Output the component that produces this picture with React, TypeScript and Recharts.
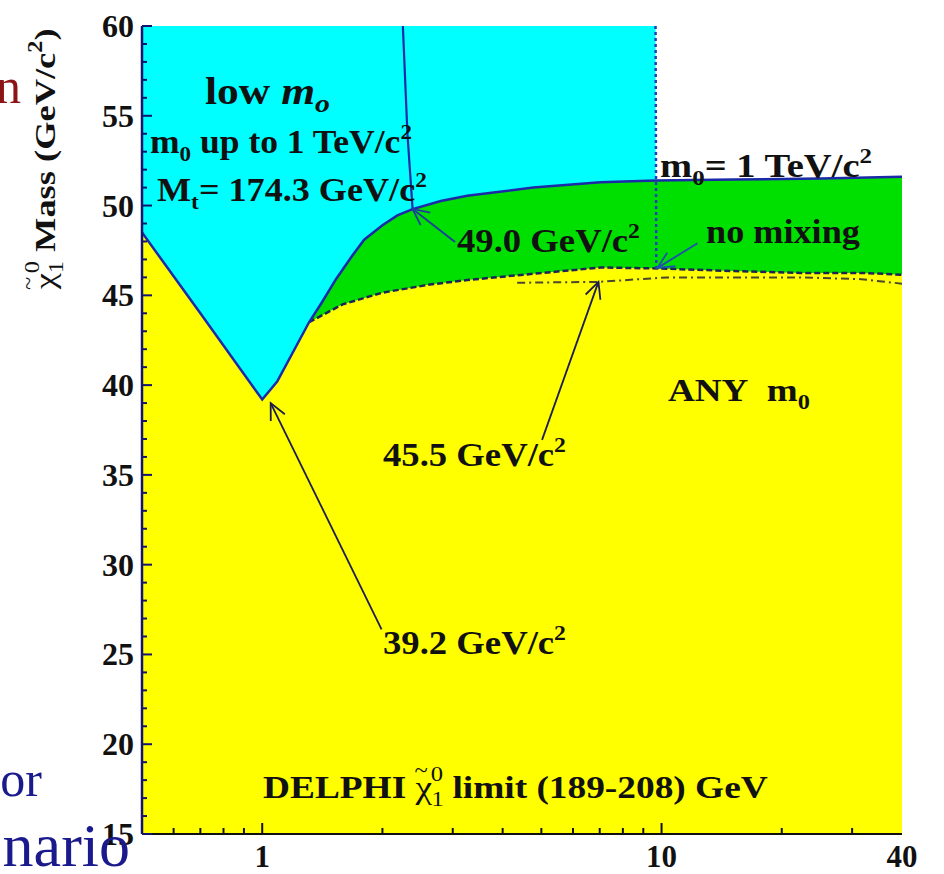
import { useLayoutEffect, useRef, useState } from "react";
import { Area, ComposedChart, Line, ReferenceLine, XAxis, YAxis } from "recharts";

const FONT = '"Liberation Serif", "Times New Roman", serif';

// tan(beta) axis ticks
const xTicks = [0.6, 0.7, 0.8, 0.9, 1, 2, 3, 4, 5, 6, 7, 8, 9, 10, 20, 30, 40];
const xLabels = [1, 10, 40];
const yTicks = [
  15, 16, 17, 18, 19, 20, 21, 22, 23, 24, 25, 26, 27, 28, 29, 30, 31, 32, 33, 34, 35, 36, 37, 38,
  39, 40, 41, 42, 43, 44, 45, 46, 47, 48, 49, 50, 51, 52, 53, 54, 55, 56, 57, 58, 59, 60,
];

// low m0 region (cyan) spans up to the m0 = 1 TeV line
const lowM0Tanb = [0.5, 9.66];
const lowM0Mass = [60, 60];

// solid limit: m0 up to 1 TeV/c2
const limitTanb = [0.5, 0.695, 1.0, 1.09, 1.31, 1.41, 1.53, 1.68, 1.8, 2.0, 2.18, 2.38, 2.8, 3.26, 4.77, 7.03, 9.66, 15.2, 25.1, 40];
const limitMass = [48.5, 44.1, 39.2, 40.2, 43.5, 44.6, 45.9, 47.2, 48.1, 48.9, 49.45, 49.8, 50.25, 50.55, 51.0, 51.3, 51.4, 51.45, 51.5, 51.6];

// any m0 limit (yellow top edge)
const anyTanb = [0.5, 0.695, 1.0, 1.09, 1.31, 1.59, 2.0, 2.63, 3.26, 4.77, 7.03, 9.77, 15.2, 22.3, 31.6, 40];
const anyMass = [48.5, 44.1, 39.2, 40.2, 43.5, 44.5, 45.15, 45.6, 45.85, 46.2, 46.55, 46.5, 46.35, 46.25, 46.25, 46.15];

// dashed part of the any m0 limit
const dashTanb = [1.31, 1.59, 2.0, 2.63, 3.26, 4.77, 7.03, 9.77, 15.2, 22.3, 31.6, 40];
const dashMass = [43.5, 44.5, 45.15, 45.6, 45.85, 46.2, 46.55, 46.5, 46.35, 46.25, 46.25, 46.15];

// no mixing (dash-dot)
const noMixTanb = [4.35, 6.95, 10.35, 15.2, 22.3, 31.6, 40];
const noMixMass = [45.7, 45.75, 46.0, 46.0, 46.0, 45.9, 45.65];

// m0 = 1 TeV boundaries
const topTanb = [2.25, 2.31, 2.38];
const topMass = [60, 54.0, 49.8];
const tevTanb = [9.66, 9.7];
const tevMass = [60, 46.5];

// arrows: label -> point
const arrowFromX = [3.04, 12.3, 5.02, 1.99];
const arrowFromY = [47.97, 47.9, 36.95, 26.4];
const arrowToX = [2.38, 9.77, 6.95, 1.05];
const arrowToY = [49.81, 46.53, 45.75, 39.0];
const arrowColors = ["#1f3c9e", "#1f4fb0", "#1c1c50", "#1c1c50"];

const rows = (xs: number[], ys: number[]) => xs.map((x, i) => ({ x, y: ys[i] }));

function XTick(props: any) {
  const { x, y, payload } = props;
  const v = payload.value;
  const major = v === 1 || v === 10;
  return (
    <g>
      {v !== 40 && (
        <line x1={x} x2={x} y1={y} y2={y - (major ? 11 : 6)} stroke="#111" strokeWidth={2} />
      )}
      {xLabels.includes(v) && (
        <text x={x} y={y + 33} textAnchor="middle" fontSize={31} fontWeight="bold" fontFamily={FONT} fill="#111">
          {v}
        </text>
      )}
    </g>
  );
}

function YTick(props: any) {
  const { x, y, payload } = props;
  const v = payload.value;
  const major = v % 5 === 0;
  return (
    <g>
      <line x1={x} x2={x + (major ? 10 : 5)} y1={y} y2={y} stroke="#14146e" strokeWidth={2} />
      {major && (
        <text x={x - 8} y={y + 11} textAnchor="end" fontSize={32} fontWeight="bold" fontFamily={FONT} fill="#111">
          {v}
        </text>
      )}
    </g>
  );
}

function Arrow(props: any) {
  const { x1, y1, x2, y2, color } = props;
  const a = Math.atan2(y2 - y1, x2 - x1);
  const len = 18;
  const spread = 0.45;
  const h1x = x2 - len * Math.cos(a - spread);
  const h1y = y2 - len * Math.sin(a - spread);
  const h2x = x2 - len * Math.cos(a + spread);
  const h2y = y2 - len * Math.sin(a + spread);
  return (
    <g stroke={color} strokeWidth={1.8} fill="none">
      <line x1={x1} y1={y1} x2={x2} y2={y2} />
      <polyline points={`${h1x},${h1y} ${x2},${y2} ${h2x},${h2y}`} />
    </g>
  );
}

// text stretched to the width it has in the figure
function FitText({ x, y, w, fs, rotate, children }: any) {
  const ref = useRef<SVGTextElement>(null);
  const [s, setS] = useState(1);
  useLayoutEffect(() => {
    if (ref.current) {
      const bw = ref.current.getBBox().width;
      if (bw > 0) setS(w / bw);
    }
  }, [w]);
  return (
    <g transform={`translate(${x},${y})${rotate ? ` rotate(${rotate})` : ""} scale(${s},1)`}>
      <text ref={ref} x={0} y={0} fontSize={fs} fontWeight="bold" fontFamily={FONT} fill="#111">
        {children}
      </text>
    </g>
  );
}

const sub = (t: string, fs: number, dy: number) => (
  <tspan fontSize={fs} dy={dy}>
    {t}
  </tspan>
);

function Annotations() {
  return (
    <svg width={944} height={874} style={{ position: "absolute", left: 0, top: 0, pointerEvents: "none" }}>
      {/* slide text cut off at the left edge */}
      <text x={21} y={103} textAnchor="end" fontSize={50} fontFamily={FONT} fill="#8b1414">n</text>
      <text x={42} y={796} textAnchor="end" fontSize={50} fontFamily={FONT} fill="#1a1a8c">or</text>
      <text x={130} y={866} textAnchor="end" fontSize={62} fontFamily={FONT} fill="#1a1a8c">nario</text>

      <FitText x={55} y={290} w={262} fs={30} rotate={-90}>
        <tspan fontWeight="normal">{"\u03c7"}</tspan>
        <tspan fontSize={20} fontWeight="normal" dx={-14} dy={-20}>~</tspan>
        <tspan fontSize={20} fontWeight="normal" dx={3} dy={28}>1</tspan>
        <tspan fontSize={20} fontWeight="normal" dx={-10} dy={-24}>0</tspan>
        <tspan dy={16}> Mass (GeV/c</tspan>
        {sub("2", 20, -13)}
        <tspan dy={13}>)</tspan>
      </FitText>

      <FitText x={205} y={104} w={125} fs={38}>
        low{"\u00a0"}
        <tspan fontStyle="italic">m</tspan>
        <tspan fontStyle="italic" fontSize={26} dy={8}>o</tspan>
      </FitText>
      <FitText x={150} y={153} w={262} fs={34}>
        m{sub("0", 22, 8)}
        <tspan dy={-8}> up to 1 TeV/c</tspan>
        {sub("2", 22, -14)}
      </FitText>
      <FitText x={157} y={201} w={270} fs={34}>
        M{sub("t", 22, 8)}
        <tspan dy={-8}>= 174.3 GeV/c</tspan>
        {sub("2", 22, -14)}
      </FitText>
      <FitText x={660} y={177} w={212} fs={34}>
        m{sub("0", 22, 8)}
        <tspan dy={-8}>= 1 TeV/c</tspan>
        {sub("2", 22, -14)}
      </FitText>
      <FitText x={706} y={243} w={154} fs={34}>
        no mixing
      </FitText>
      <FitText x={457} y={252} w={183} fs={34}>
        49.0 GeV/c{sub("2", 22, -14)}
      </FitText>
      <FitText x={668} y={401} w={142} fs={32}>
        ANY{"\u00a0\u00a0"}m{sub("0", 21, 8)}
      </FitText>
      <FitText x={383} y={466} w={183} fs={34}>
        45.5 GeV/c{sub("2", 22, -14)}
      </FitText>
      <FitText x={383} y={654} w={183} fs={34}>
        39.2 GeV/c{sub("2", 22, -14)}
      </FitText>
      <FitText x={263} y={798} w={505} fs={32}>
        DELPHI{" "}
        <tspan fontWeight="normal">{"\u03c7"}</tspan>
        <tspan fontSize={21} fontWeight="normal" dx={-15} dy={-21}>~</tspan>
        <tspan fontSize={21} fontWeight="normal" dx={3} dy={29}>1</tspan>
        <tspan fontSize={21} fontWeight="normal" dx={-11} dy={-25}>0</tspan>
        <tspan dy={17}> limit (189-208) GeV</tspan>
      </FitText>
    </svg>
  );
}

export default function App() {
  return (
    <div style={{ position: "absolute", left: 0, top: 0, width: 944, height: 874, background: "#fff" }}>
      <ComposedChart width={944} height={874} margin={{ top: 26, right: 42, bottom: 0, left: 0 }}>
        <XAxis
          dataKey="x"
          type="number"
          scale="log"
          domain={[0.5, 40]}
          allowDataOverflow
          ticks={xTicks}
          interval={0}
          tickSize={0}
          tickMargin={0}
          height={40}
          tick={XTick}
          tickLine={false}
          axisLine={{ stroke: "#111", strokeWidth: 2 }}
        />
        <XAxis
          xAxisId="top"
          orientation="top"
          type="number"
          scale="log"
          domain={[0.5, 40]}
          allowDataOverflow
          height={0}
          tick={false}
          tickLine={false}
          axisLine={{ stroke: "#111", strokeWidth: 2.5 }}
        />
        <YAxis
          type="number"
          domain={[15, 60]}
          allowDataOverflow
          ticks={yTicks}
          interval={0}
          width={142}
          tickSize={0}
          tickMargin={0}
          tick={YTick}
          tickLine={false}
          axisLine={{ stroke: "#14146e", strokeWidth: 2.5 }}
        />
        <YAxis
          yAxisId="right"
          orientation="right"
          type="number"
          domain={[15, 60]}
          width={0}
          tick={false}
          tickLine={false}
          axisLine={{ stroke: "#333", strokeWidth: 1.5 }}
        />

        <Area data={rows(lowM0Tanb, lowM0Mass)} dataKey="y" type="linear" baseValue={15} fill="#00ffff" fillOpacity={1} stroke="none" isAnimationActive={false} />
        <Area data={rows(limitTanb, limitMass)} dataKey="y" type="linear" baseValue={15} fill="#00e000" fillOpacity={1} stroke="none" isAnimationActive={false} />
        <Area data={rows(anyTanb, anyMass)} dataKey="y" type="linear" baseValue={15} fill="#ffff00" fillOpacity={1} stroke="none" isAnimationActive={false} />

        <Line data={rows(noMixTanb, noMixMass)} dataKey="y" type="linear" stroke="#4a4630" strokeWidth={2} strokeDasharray="8 4 2 4" dot={false} isAnimationActive={false} />
        <Line data={rows(dashTanb, dashMass)} dataKey="y" type="linear" stroke="#1b2455" strokeWidth={2.5} strokeDasharray="6 3" dot={false} isAnimationActive={false} />
        <Line data={rows(tevTanb, tevMass)} dataKey="y" type="linear" stroke="#1f3fc0" strokeWidth={2.5} strokeDasharray="3 3" dot={false} isAnimationActive={false} />
        <Line data={rows(topTanb, topMass)} dataKey="y" type="linear" stroke="#1c2aa8" strokeWidth={2.2} dot={false} isAnimationActive={false} />
        <Line data={rows(limitTanb, limitMass)} dataKey="y" type="linear" stroke="#1c2aa8" strokeWidth={2.5} dot={false} isAnimationActive={false} />

        {arrowFromX.map((x, i) => (
          <ReferenceLine
            key={i}
            segment={[
              { x, y: arrowFromY[i] },
              { x: arrowToX[i], y: arrowToY[i] },
            ]}
            ifOverflow="visible"
            shape={(p: any) => <Arrow {...p} color={arrowColors[i]} />}
          />
        ))}
      </ComposedChart>
      <Annotations />
    </div>
  );
}
